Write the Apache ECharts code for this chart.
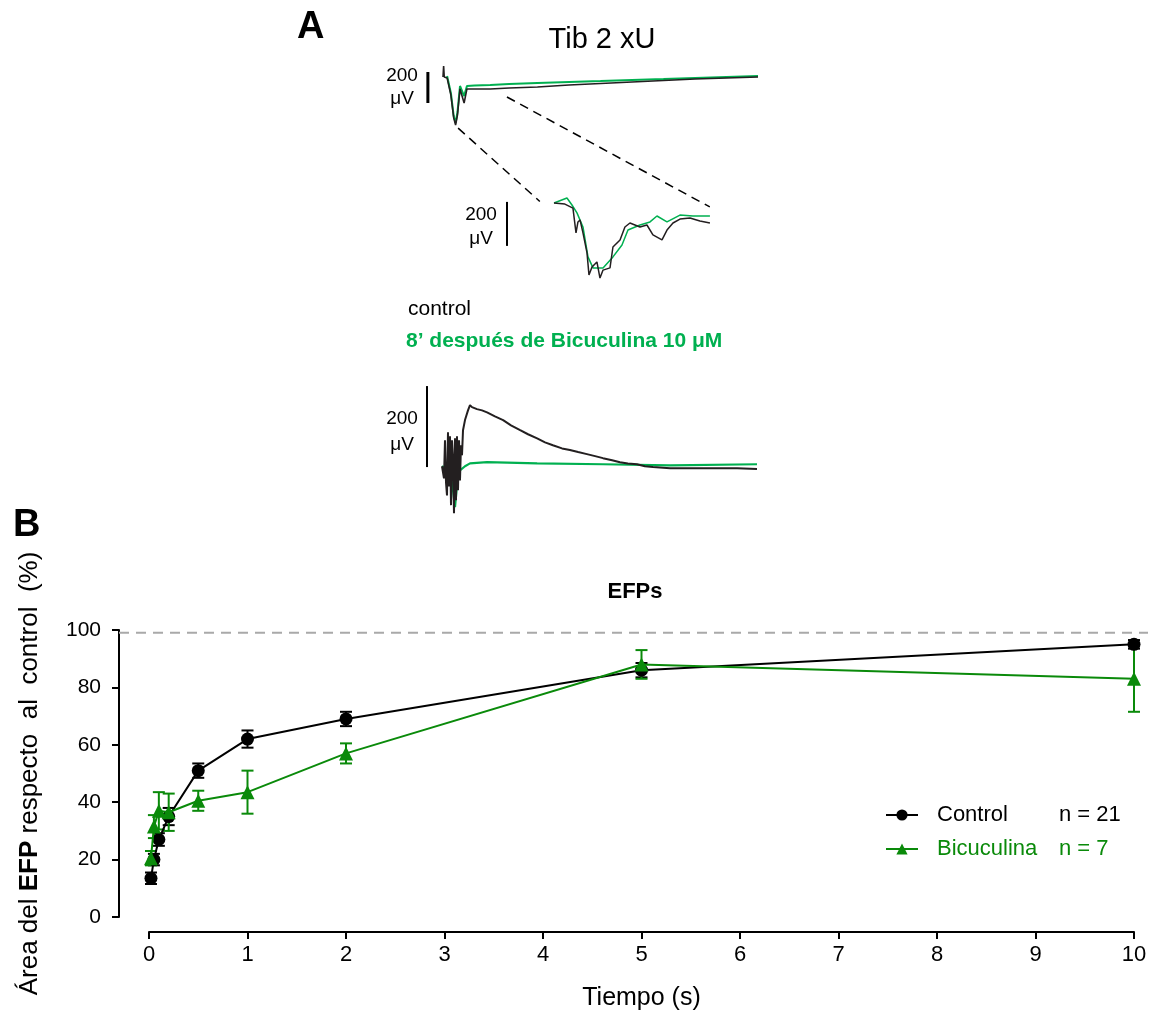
<!DOCTYPE html>
<html>
<head>
<meta charset="utf-8">
<script src="https://cdn.jsdelivr.net/npm/echarts@6/dist/echarts.min.js"></script>
<style>html,body{margin:0;padding:0;background:#fff;}#c{width:1158px;height:1014px;}</style>
</head>
<body>
<div id="c"></div>
<script>
// ---------- Panel B data ----------
var times = [0.02, 0.05, 0.1, 0.2, 0.5, 1, 2, 5, 10];
var controlMean = [13.5, 20, 27, 35, 51, 62, 69, 86, 95];
var controlErr = [2, 2, 2.2, 3, 2.5, 3, 2.5, 2.5, 1.5];
var bicMean = [20.5, 31.5, 37, 36.5, 40.5, 43.5, 57, 88, 83];
var bicErr = [2.5, 4, 6.5, 6.5, 3.5, 7.5, 3.5, 5, 11.5];
var refLevel = 99;
var xTicks = [0,1,2,3,4,5,6,7,8,9,10];
var yTicks = [0,20,40,60,80,100];

// ---------- Panel A traces (time ms, amplitude µV) ----------
var topCtrlT = [0,0.2,0.4,1.3,2.5,3.4,4.0,4.6,5.4,6.0,6.7,7.6,10,15,21,30,40,50,60,70,80,90,100];
var topCtrlV = [0,71,0,-6,-116,-264,-310,-245,-77,-84,-168,-77,-77,-77,-71,-65,-52,-42,-32,-23,-13,-6,0];
var topBicT = [1.3,2.5,3.4,4.0,4.6,5.4,6.0,6.7,7.6,10,15,21,30,40,50,60,70,80,90,100];
var topBicV = [6,-103,-252,-297,-226,-58,-65,-123,-58,-55,-52,-45,-39,-32,-26,-19,-13,-6,0,6];

var midCtrlT = [0,1.0,1.74,2.02,2.2,2.39,2.66,3.03,3.21,3.49,3.94,4.22,4.5,5.14,5.41,6.06,6.51,6.97,7.89,8.53,9.08,9.91,10.37,10.92,11.56,12.48,13.39,14.31];
var midCtrlV = [0,-5,-23,-136,-86,-77,-136,-227,-327,-291,-268,-341,-305,-295,-200,-168,-109,-91,-109,-100,-145,-168,-123,-91,-73,-68,-82,-91];
var midBicT = [0,1.19,1.65,2.11,2.66,3.12,3.58,4.5,5.41,6.24,6.79,7.89,8.81,9.45,10.37,11.56,12.75,14.31];
var midBicV = [0,23,-9,-45,-109,-245,-295,-295,-245,-191,-123,-100,-86,-59,-86,-55,-59,-59];

var botCtrlT = [0,0.32,0.63,0.95,1.27,1.59,1.9,2.22,2.54,2.86,3.17,3.49,3.81,4.13,4.44,4.76,5.08,5.4,5.71,6.03,6.35,6.67,7.3,8.25,8.89,9.52,11.1,12.7,14.3,16.8,19.4,21.9,24.8,27.3,30.2,32.7,35.2,38.1,40.6,43.2,46.0,48.6,51.1,54.0,56.5,59.0,61.9,64.4,67.0,72.4,82.9,93.7,100];
var botCtrlV = [0,0,-30,64,-40,-72,84,-50,74,-96,64,20,-116,69,-84,74,-59,64,-35,52,27,89,114,138,151,146,141,138,133,123,114,101,89,79,69,59,52,44,40,35,30,25,20,15,10,7,5,0,-2,-5,-5,-5,-7];
var botBicT = [0,2.54,3.49,4.13,4.76,5.71,7.3,8.89,14.3,30.2,51.1,72.4,100];
var botBicV = [0,-10,-59,-101,-47,-10,0,7,10,7,5,2,5];

var scaleBarUV = 200;

function pairs(t, v) { return t.map(function (x, i) { return [x, v[i]]; }); }

var FONT = 'Liberation Sans, Arial, sans-serif';
var GREEN_A = '#00b050';
var GREEN_B = '#0a8a0a';
var TRACE_BLACK = '#231f20';

var chart = echarts.init(document.getElementById('c'), null, {renderer: 'canvas'});

function errSeries(name, mean, err, color) {
  var data = times.map(function (t, i) { return [t, mean[i] - err[i], mean[i] + err[i]]; });
  return {
    name: name, type: 'custom', xAxisIndex: 0, yAxisIndex: 0, data: data, z: 3,
    renderItem: function (params, api) {
      var lo = api.coord([api.value(0), api.value(1)]);
      var hi = api.coord([api.value(0), api.value(2)]);
      var st = {stroke: color, lineWidth: 2};
      return {type: 'group', children: [
        {type: 'line', shape: {x1: lo[0], y1: lo[1], x2: hi[0], y2: hi[1]}, style: st},
        {type: 'line', shape: {x1: lo[0]-6, y1: lo[1], x2: lo[0]+6, y2: lo[1]}, style: st},
        {type: 'line', shape: {x1: hi[0]-6, y1: hi[1], x2: hi[0]+6, y2: hi[1]}, style: st}
      ]};
    }
  };
}

function hiddenAxis(gi, min, max) { return {gridIndex: gi, type: 'value', min: min, max: max, show: false}; }

var option = {
  animation: false,
  textStyle: {fontFamily: FONT},
  title: [
    {text: 'A', left: 292, top: 4, textStyle: {fontSize: 38, fontWeight: 'bold', color: '#000', fontFamily: FONT}},
    {text: 'B', left: 8, top: 502, textStyle: {fontSize: 38, fontWeight: 'bold', color: '#000', fontFamily: FONT}},
    {text: 'Tib 2 xU', left: 597, top: 20, textAlign: 'center', textStyle: {fontSize: 29, fontWeight: 'normal', color: '#000', fontFamily: FONT}},
    {text: '200\nμV', left: 397, top: 59, textAlign: 'center', textStyle: {fontSize: 19, lineHeight: 23, fontWeight: 'normal', color: '#000', fontFamily: FONT}},
    {text: '200\nμV', left: 476, top: 198, textAlign: 'center', textStyle: {fontSize: 19, lineHeight: 24, fontWeight: 'normal', color: '#000', fontFamily: FONT}},
    {text: '200\nμV', left: 397, top: 401, textAlign: 'center', textStyle: {fontSize: 19, lineHeight: 26, fontWeight: 'normal', color: '#000', fontFamily: FONT}},
    {text: 'control', left: 403, top: 294, textStyle: {fontSize: 21, fontWeight: 'normal', color: '#000', fontFamily: FONT}},
    {text: '8\u2019 después de Bicuculina 10 μM', left: 401, top: 326, textStyle: {fontSize: 21, fontWeight: 'bold', color: GREEN_A, fontFamily: FONT}},
    {text: 'EFPs', left: 630, top: 576, textAlign: 'center', textStyle: {fontSize: 22, fontWeight: 'bold', color: '#000', fontFamily: FONT}}
  ],
  legend: {
    orient: 'vertical', left: 880, top: 799, itemWidth: 32, itemHeight: 14, itemGap: 12,
    data: [
      {name: 'Control', textStyle: {color: '#000'}},
      {name: 'Bicuculina', textStyle: {color: GREEN_B}}
    ],
    formatter: function (name) {
      return name === 'Control' ? '{n|Control}{m|n = 21}' : '{n|Bicuculina}{m|n = 7}';
    },
    textStyle: {fontFamily: FONT, fontSize: 22, rich: {
      n: {fontSize: 22, width: 122, padding: [0, 0, 0, 14], fontFamily: FONT, lineHeight: 22},
      m: {fontSize: 22, fontFamily: FONT, lineHeight: 22}
    }}
  },
  grid: [
    {left: 149, top: 630, width: 985, height: 287},
    {left: 119, top: 630, width: 1029, height: 287},
    {left: 411.5, top: 46, width: 346.5, height: 93},
    {left: 499.5, top: 192, width: 212.5, height: 99},
    {left: 410.5, top: 365, width: 346.5, height: 162}
  ],
  xAxis: [
    {gridIndex: 0, type: 'value', min: 0, max: 10, interval: 1, offset: 15,
     name: 'Tiempo (s)', nameLocation: 'middle', nameGap: 54,
     nameTextStyle: {fontSize: 25, color: '#000', fontFamily: FONT},
     axisLine: {show: true, onZero: false, lineStyle: {color: '#000', width: 2}},
     axisTick: {show: true, length: 7, lineStyle: {color: '#000', width: 2}},
     axisLabel: {fontSize: 22, color: '#000', margin: 12, fontFamily: FONT,
       formatter: function (v) { return xTicks.indexOf(v) >= 0 ? String(v) : ''; }},
     splitLine: {show: false}},
    hiddenAxis(1, 0, 1),
    hiddenAxis(2, -10, 100),
    hiddenAxis(3, -5, 14.5),
    hiddenAxis(4, -10, 100)
  ],
  yAxis: [
    {gridIndex: 0, type: 'value', min: 0, max: 100, interval: 20, offset: 30,
     name: '{a|Área del }{b|EFP}{a| respecto  al  control  (%)}', nameLocation: 'middle', nameGap: 76,
     nameTextStyle: {fontSize: 26, color: '#000', fontFamily: FONT, rich: {
       a: {fontSize: 26, fontFamily: FONT, color: '#000'},
       b: {fontSize: 26, fontFamily: FONT, color: '#000', fontWeight: 'bold'}}},
     axisLine: {show: true, onZero: false, lineStyle: {color: '#000', width: 2}},
     axisTick: {show: true, length: 7, lineStyle: {color: '#000', width: 2}},
     axisLabel: {fontSize: 21, color: '#000', margin: 18, fontFamily: FONT,
       formatter: function (v) { return yTicks.indexOf(v) >= 0 ? String(v) : ''; }},
     splitLine: {show: false}},
    hiddenAxis(1, 0, 100),
    hiddenAxis(2, -400, 200),
    hiddenAxis(3, -400, 50),
    hiddenAxis(4, -150, 250)
  ],
  series: [
    {name: 'ref', type: 'line', xAxisIndex: 1, yAxisIndex: 1, data: [[0, refLevel], [1, refLevel]],
     symbol: 'none', lineStyle: {color: '#a9a9a9', width: 2, type: [10, 7]}, z: 1},
    errSeries('Control err', controlMean, controlErr, '#000'),
    {name: 'Control', type: 'line', xAxisIndex: 0, yAxisIndex: 0,
     data: pairs(times, controlMean), symbol: 'circle', symbolSize: 13,
     itemStyle: {color: '#000'}, lineStyle: {color: '#000', width: 2}, z: 4},
    errSeries('Bicuculina err', bicMean, bicErr, GREEN_B),
    {name: 'Bicuculina', type: 'line', xAxisIndex: 0, yAxisIndex: 0,
     data: pairs(times, bicMean), symbol: 'triangle', symbolSize: 14,
     itemStyle: {color: GREEN_B}, lineStyle: {color: GREEN_B, width: 2}, z: 5},

    // Panel A: top traces
    {name: 'top bic', type: 'line', xAxisIndex: 2, yAxisIndex: 2, data: pairs(topBicT, topBicV),
     symbol: 'none', lineStyle: {color: GREEN_A, width: 2}},
    {name: 'top ctrl', type: 'line', xAxisIndex: 2, yAxisIndex: 2, data: pairs(topCtrlT, topCtrlV),
     symbol: 'none', lineStyle: {color: TRACE_BLACK, width: 1.6}},
    {name: 'top bar', type: 'line', xAxisIndex: 2, yAxisIndex: 2, data: [[-4.8, 32], [-4.8, 32 - scaleBarUV]],
     symbol: 'none', lineStyle: {color: '#000', width: 3}},
    // middle (expanded)
    {name: 'mid bic', type: 'line', xAxisIndex: 3, yAxisIndex: 3, data: pairs(midBicT, midBicV),
     symbol: 'none', lineStyle: {color: GREEN_A, width: 1.5}},
    {name: 'mid ctrl', type: 'line', xAxisIndex: 3, yAxisIndex: 3, data: pairs(midCtrlT, midCtrlV),
     symbol: 'none', lineStyle: {color: TRACE_BLACK, width: 1.5}},
    {name: 'mid bar', type: 'line', xAxisIndex: 3, yAxisIndex: 3, data: [[-4.31, 5], [-4.31, 5 - scaleBarUV]],
     symbol: 'none', lineStyle: {color: '#000', width: 2}},
    // bottom
    {name: 'bot bic', type: 'line', xAxisIndex: 4, yAxisIndex: 4, data: pairs(botBicT, botBicV),
     symbol: 'none', lineStyle: {color: GREEN_A, width: 2.2}},
    {name: 'bot ctrl', type: 'line', xAxisIndex: 4, yAxisIndex: 4, data: pairs(botCtrlT, botCtrlV),
     symbol: 'none', lineStyle: {color: TRACE_BLACK, width: 2}},
    {name: 'bot bar', type: 'line', xAxisIndex: 4, yAxisIndex: 4, data: [[-4.76, 198], [-4.76, 198 - scaleBarUV]],
     symbol: 'none', lineStyle: {color: '#000', width: 2}}
  ]
};
chart.setOption(option);

// dashed connectors from the top trace to the expanded trace
var a1 = chart.convertToPixel({gridIndex: 2}, [4.8, -330]);
var b1 = chart.convertToPixel({gridIndex: 3}, [-1.3, 7]);
var a2 = chart.convertToPixel({gridIndex: 2}, [20.3, -129]);
var b2 = chart.convertToPixel({gridIndex: 3}, [14.3, -18]);
chart.setOption({graphic: [
  {type: 'line', shape: {x1: a1[0], y1: a1[1], x2: b1[0], y2: b1[1]}, style: {stroke: '#000', lineWidth: 1.5, lineDash: [9, 6]}},
  {type: 'line', shape: {x1: a2[0], y1: a2[1], x2: b2[0], y2: b2[1]}, style: {stroke: '#000', lineWidth: 1.5, lineDash: [9, 6]}}
]});
</script>
</body>
</html>
